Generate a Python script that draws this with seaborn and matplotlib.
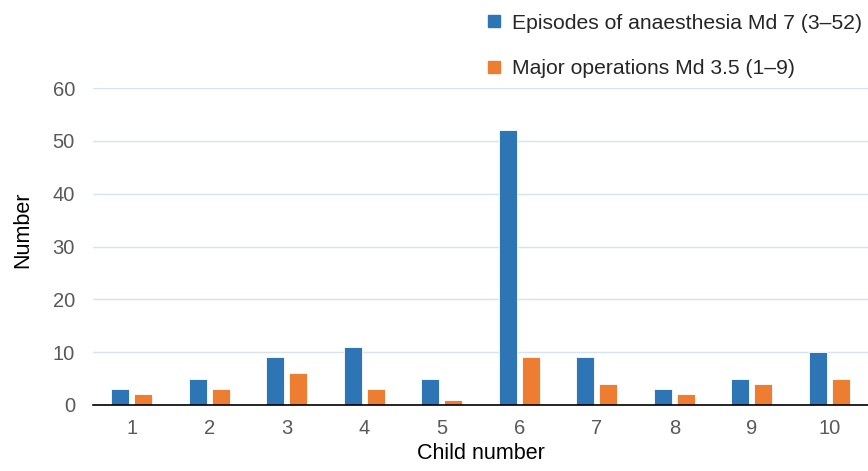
import matplotlib
matplotlib.use("Agg")
import matplotlib.pyplot as plt
from matplotlib.lines import Line2D
import seaborn as sns
import pandas as pd

children = [str(i) for i in range(1, 11)]
anaesthesia = [3, 5, 9, 11, 5, 52, 9, 3, 5, 10]
operations = [2, 3, 6, 3, 1, 9, 4, 2, 4, 5]
series_names = ["Episodes of anaesthesia Md 7 (3\u201352)",
                "Major operations Md 3.5 (1\u20139)"]
colors = ["#2E75B6", "#ED7D31"]
y_ticks = [0, 10, 20, 30, 40, 50, 60]

df = pd.DataFrame({
    "Child number": children * 2,
    "Number": anaesthesia + operations,
    "series": [series_names[0]] * len(children) + [series_names[1]] * len(children),
})

sns.set_theme(style="white")
plt.rcParams["font.family"] = ["Liberation Sans", "DejaVu Sans"]

fig = plt.figure(figsize=(8.68, 4.71), dpi=100)
ax = fig.add_axes([93 / 868, 1 - 405 / 471, 1 - 93 / 868, (405 - 88) / 471])

sns.barplot(data=df, x="Child number", y="Number", hue="series",
            palette=colors, width=0.59, gap=0.2, ax=ax, legend=False,
            edgecolor="white", linewidth=0.6, saturation=1)

ax.set_ylim(0, 60)
ax.set_xlim(-0.5, 9.5)
ax.set_yticks(y_ticks)
ax.yaxis.grid(True, color="#D6E3F0", linewidth=1)
ax.set_axisbelow(True)
for side in ["top", "right", "left"]:
    ax.spines[side].set_visible(False)
ax.spines["bottom"].set_color("black")
ax.spines["bottom"].set_linewidth(1.2)
ax.tick_params(axis="both", length=0, labelsize=14.5, colors="#595959")
ax.tick_params(axis="x", pad=10)
ax.tick_params(axis="y", pad=13)
ax.set_xlabel("Child number", fontsize=15.5, color="black", labelpad=4)
ax.set_ylabel("Number", fontsize=15.5, color="black", labelpad=14, y=0.552)

handles = [Line2D([0], [0], marker="s", linestyle="none", markersize=8,
                  markerfacecolor=c, markeredgecolor=c) for c in colors]
fig.legend(handles, series_names, loc="upper left",
           bbox_to_anchor=(472 / 868, 1.0), frameon=False, fontsize=15.2,
           handlelength=0.8, handletextpad=0.45, labelspacing=1.25,
           borderaxespad=0.25)

fig.savefig("out.png", dpi=100)
